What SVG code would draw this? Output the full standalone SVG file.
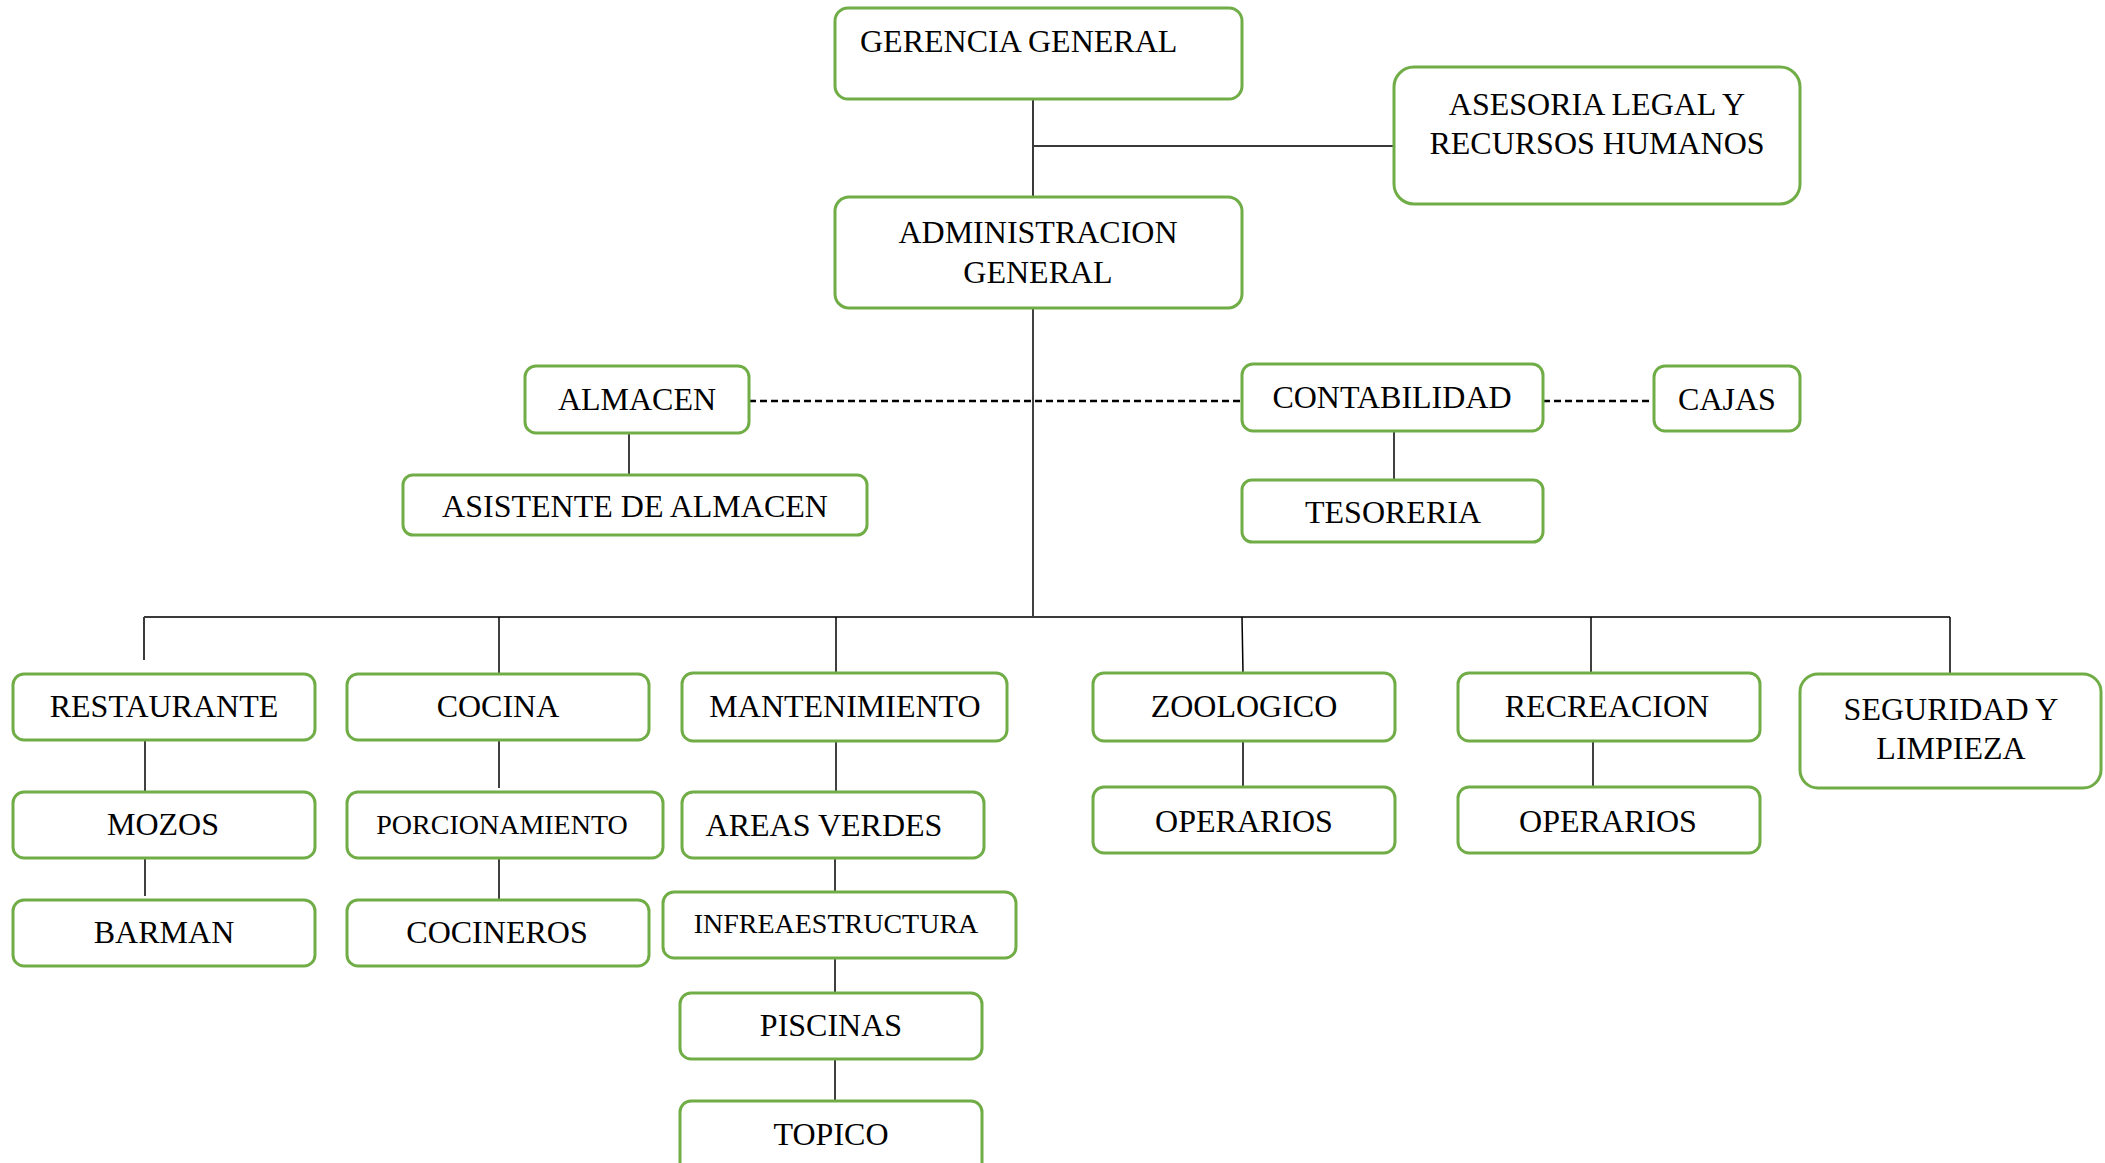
<svg xmlns="http://www.w3.org/2000/svg" width="2105" height="1163" viewBox="0 0 2105 1163">
<style>
.box{fill:#fff;stroke:#70AD47;stroke-width:3}
.t{font-family:"Liberation Serif","Times New Roman",serif;font-size:32px;fill:#000;text-anchor:middle}
.s{font-size:28px}
.ln{stroke:#000;stroke-width:1.5;fill:none}
.bus{stroke:#3a3a3a;stroke-width:2;fill:none}
.dash{stroke:#000;stroke-width:2.6;stroke-dasharray:7 4;fill:none}
</style>
<rect width="2105" height="1163" fill="#fff"/>
<g id="connectors">
<line class="bus" x1="1033" y1="99" x2="1033" y2="197"/>
<line class="bus" x1="1033" y1="146" x2="1394" y2="146"/>
<line class="ln" x1="1033" y1="308" x2="1033" y2="617"/>
<line class="dash" x1="749" y1="401" x2="1242" y2="401"/>
<line class="dash" x1="1543" y1="401" x2="1654" y2="401"/>
<line class="ln" x1="629" y1="433" x2="629" y2="475"/>
<line class="ln" x1="1394" y1="431" x2="1394" y2="480"/>
<line class="bus" x1="144" y1="617" x2="1950" y2="617"/>
<line class="bus" x1="144" y1="617" x2="144" y2="660"/>
<line class="ln" x1="499" y1="617" x2="499" y2="674"/>
<line class="ln" x1="836" y1="617" x2="836" y2="673"/>
<line class="ln" x1="1242" y1="617" x2="1243" y2="673"/>
<line class="ln" x1="1591" y1="617" x2="1591" y2="673"/>
<line class="ln" x1="1950" y1="617" x2="1950" y2="674"/>
<line class="ln" x1="145" y1="740" x2="145" y2="792"/>
<line class="ln" x1="145" y1="858" x2="145" y2="896"/>
<line class="ln" x1="499" y1="740" x2="499" y2="788"/>
<line class="ln" x1="499" y1="858" x2="499" y2="900"/>
<line class="ln" x1="836" y1="741" x2="836" y2="792"/>
<line class="ln" x1="835" y1="858" x2="835" y2="892"/>
<line class="ln" x1="835" y1="958" x2="835" y2="993"/>
<line class="ln" x1="835" y1="1059" x2="835" y2="1101"/>
<line class="ln" x1="1243" y1="741" x2="1243" y2="787"/>
<line class="ln" x1="1593" y1="741" x2="1593" y2="792"/>
</g>
<g id="gerencia"><rect class="box" x="835" y="8" width="407" height="91" rx="13"/><text class="t" x="860" y="52" style="text-anchor:start">GERENCIA GENERAL</text></g>
<g id="asesoria"><rect class="box" x="1394" y="67" width="406" height="137" rx="20"/><text class="t" x="1597" y="115">ASESORIA LEGAL Y</text><text class="t" x="1597" y="154">RECURSOS HUMANOS</text></g>
<g id="administracion"><rect class="box" x="835" y="197" width="407" height="111" rx="14"/><text class="t" x="1038" y="243">ADMINISTRACION</text><text class="t" x="1038" y="283">GENERAL</text></g>
<g id="almacen"><rect class="box" x="525" y="366" width="224" height="67" rx="11"/><text class="t" x="637" y="410">ALMACEN</text></g>
<g id="asistente"><rect class="box" x="403" y="475" width="464" height="60" rx="10"/><text class="t" x="635" y="517">ASISTENTE DE ALMACEN</text></g>
<g id="contabilidad"><rect class="box" x="1242" y="364" width="301" height="67" rx="11"/><text class="t" x="1392" y="408">CONTABILIDAD</text></g>
<g id="cajas"><rect class="box" x="1654" y="366" width="146" height="65" rx="11"/><text class="t" x="1727" y="410">CAJAS</text></g>
<g id="tesoreria"><rect class="box" x="1242" y="480" width="301" height="62" rx="10"/><text class="t" x="1393" y="523">TESORERIA</text></g>
<g id="restaurante"><rect class="box" x="13" y="674" width="302" height="66" rx="11"/><text class="t" x="164" y="717">RESTAURANTE</text></g>
<g id="mozos"><rect class="box" x="13" y="792" width="302" height="66" rx="11"/><text class="t" x="163" y="835">MOZOS</text></g>
<g id="barman"><rect class="box" x="13" y="900" width="302" height="66" rx="11"/><text class="t" x="164" y="943">BARMAN</text></g>
<g id="cocina"><rect class="box" x="347" y="674" width="302" height="66" rx="11"/><text class="t" x="498" y="717">COCINA</text></g>
<g id="porcionamiento"><rect class="box" x="347" y="792" width="316" height="66" rx="11"/><text class="t s" x="502" y="834">PORCIONAMIENTO</text></g>
<g id="cocineros"><rect class="box" x="347" y="900" width="302" height="66" rx="11"/><text class="t" x="497" y="943">COCINEROS</text></g>
<g id="mantenimiento"><rect class="box" x="682" y="673" width="325" height="68" rx="11"/><text class="t" x="845" y="717">MANTENIMIENTO</text></g>
<g id="areas-verdes"><rect class="box" x="682" y="792" width="302" height="66" rx="11"/><text class="t" x="824" y="836">AREAS VERDES</text></g>
<g id="infraestructura"><rect class="box" x="663" y="892" width="353" height="66" rx="11"/><text class="t s" x="836" y="933">INFREAESTRUCTURA</text></g>
<g id="piscinas"><rect class="box" x="680" y="993" width="302" height="66" rx="11"/><text class="t" x="831" y="1036">PISCINAS</text></g>
<g id="topico"><rect class="box" x="680" y="1101" width="302" height="80" rx="11"/><text class="t" x="831" y="1145">TOPICO</text></g>
<g id="zoologico"><rect class="box" x="1093" y="673" width="302" height="68" rx="11"/><text class="t" x="1244" y="717">ZOOLOGICO</text></g>
<g id="operarios-zoo"><rect class="box" x="1093" y="787" width="302" height="66" rx="11"/><text class="t" x="1244" y="832">OPERARIOS</text></g>
<g id="recreacion"><rect class="box" x="1458" y="673" width="302" height="68" rx="11"/><text class="t" x="1607" y="717">RECREACION</text></g>
<g id="operarios-rec"><rect class="box" x="1458" y="787" width="302" height="66" rx="11"/><text class="t" x="1608" y="832">OPERARIOS</text></g>
<g id="seguridad"><rect class="box" x="1800" y="674" width="301" height="114" rx="18"/><text class="t" x="1951" y="720">SEGURIDAD Y</text><text class="t" x="1951" y="759">LIMPIEZA</text></g>
</svg>
